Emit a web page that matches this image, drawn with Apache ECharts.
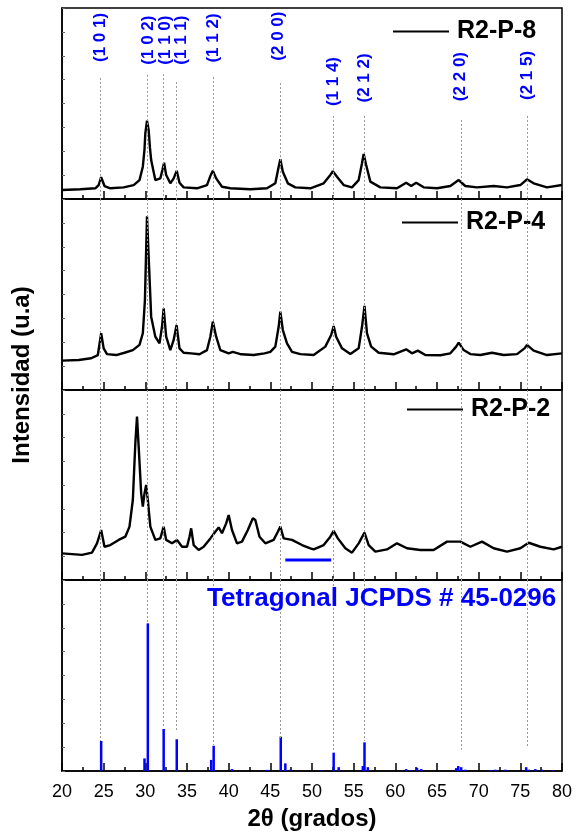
<!DOCTYPE html>
<html><head><meta charset="utf-8">
<script src="https://cdn.jsdelivr.net/npm/echarts@6/dist/echarts.min.js"></script>
<style>html,body{margin:0;padding:0;background:#fff}#c{width:577px;height:835px}</style>
</head><body><div id="c"></div>
<script>
// ---- data ----
const xTicks = [20,25,30,35,40,45,50,55,60,65,70,75,80];

const theta8 = [20.0,22.2,24.0,24.4,24.7,25.1,25.8,27.4,28.6,29.3,29.7,29.9,30.0,30.2,30.4,30.55,30.7,31.2,31.8,32.05,32.25,32.5,33.0,33.4,33.77,34.1,34.6,36.2,37.4,37.8,38.1,38.5,39.2,40.2,42.6,44.6,45.6,46.0,46.2,46.5,47.1,48.0,49.8,51.4,52.2,52.5,53.0,53.8,54.8,55.6,56.0,56.2,56.5,57.0,58.2,60.2,61.3,61.9,62.5,63.4,65.0,66.6,67.6,68.4,69.8,71.8,73.4,75.0,75.8,76.6,78.2,80.0];
const int8   = [4.7,5.1,5.6,7.3,11.4,6.8,5.6,6.1,7.3,9.9,16.9,26,34.4,41,36.1,27,20.4,9.9,10.8,15.2,19,12.6,8.2,10.8,14.8,8.5,6.1,5.6,7.3,12,14.8,10.8,6.4,5.6,5.1,5.6,8.2,16.9,20.8,14.3,8.2,6.1,5.6,8.2,12.6,14.5,11.7,7.3,6.1,9.9,18.7,23.6,17.8,9.1,6.1,5.6,8.5,6.8,8.5,6.1,5.6,6.8,9.9,6.8,6.1,6.8,6.1,7.3,10.3,8.2,6.1,7.3];

const theta4 = [20.0,22.0,23.5,24.3,24.7,25.0,25.4,26.5,27.5,28.5,29.3,29.7,29.95,30.2,30.45,30.7,31.2,31.7,32.0,32.2,32.5,33.0,33.4,33.75,34.1,34.6,35.5,36.5,37.4,37.8,38.1,38.5,39.0,40.0,40.5,41.5,43.0,44.3,45.0,45.6,46.0,46.2,46.5,47.0,47.6,48.6,50.2,51.6,52.3,52.6,52.9,53.6,54.6,55.6,56.0,56.3,56.6,57.1,58.0,59.8,61.3,62.0,62.7,63.6,65.4,66.6,67.3,67.6,68.2,69.0,70.2,71.6,73.0,74.6,75.5,75.8,76.6,78.2,80.0];
const int4   = [15.4,15.7,16.6,18.3,29.7,21.8,18.8,18.3,19.5,20.9,23.6,29.7,47,91,64.6,38.4,27.9,24.4,33.1,42.8,27.9,20.9,26.2,34,21.8,19.5,19.2,18.7,20.9,27.9,35.8,27.9,20.9,19.2,20,18.7,18.3,19.2,20,22.7,33.1,41,31.4,24.4,20,18.8,18.3,22.7,28.8,33.5,27.9,21.8,18.8,21.8,33.1,44,29.7,22.7,19.5,18.7,21.3,19.2,20.6,18.3,18.2,19.2,22.7,24.8,20.9,18.8,18.3,19.5,18.3,18.8,21.8,23.6,20.6,18.3,19.2];

const theta2 = [20.0,22.4,23.6,24.2,24.7,25.1,25.8,26.8,27.6,28.1,28.5,28.8,29.0,29.2,29.5,29.7,29.9,30.1,30.3,30.6,31.2,31.8,32.2,32.5,33.2,33.8,34.4,35.0,35.3,35.5,35.8,36.4,37.0,37.8,38.4,38.8,39.2,39.7,40.0,40.4,41.0,41.6,42.3,42.9,43.2,43.7,44.4,45.4,45.9,46.2,46.6,47.6,48.8,49.8,50.2,51.4,52.2,52.6,53.1,54.0,54.8,55.6,56.3,56.8,57.6,59.0,60.2,61.4,63.0,64.6,66.2,67.8,69.0,70.4,71.8,73.4,75.0,76.0,77.4,79.0,80.0];
const int2   = [14,13.2,14.4,19.3,26.3,17.5,18.4,21.1,22.8,28.1,42.1,72,86,70.2,45.6,38.6,45.6,50,42.1,28.1,21.1,21.9,28.1,21.1,19.3,21.1,17.5,17.5,22.8,27.2,18.4,15.8,17.5,21.9,25.4,27.7,24.6,29.8,34.2,26.3,19.3,20.2,26.3,32.5,31.6,22.8,19.3,21.1,25.4,28.1,21.9,21.1,18.4,16.7,16.1,18.4,22.8,25.9,21.9,16.7,14.4,19.3,24.9,18.4,14.9,16.1,19.3,16.7,15.8,15.8,20.2,20.2,17.5,20.2,16.7,14.9,16.7,19.6,17.5,16.1,17.5];

const refTheta = [24.6,30.2,32.2,33.75,38.1,46.2,52.6,56.25,67.9,75.8];
const jcpdsTheta = [24.7,29.9,30.3,32.2,33.77,37.9,38.2,40.4,44.65,46.25,46.8,47.4,51.1,52.6,53.2,56.1,56.3,56.7,61.3,61.8,62.6,63.1,67.3,67.55,67.9,68.4,71.4,72.0,73.2,75.7,76.0,76.8,77.6,78.9];
const jcpdsInt   = [15.7,6.6,77.3,22,16.6,5.8,13.2,1,0.6,18,4,0.7,0.4,9.6,2,2.6,15,2,1,0.5,1.7,1,1.5,2.6,2,0.7,0.5,0.7,0.7,2,0.7,1,0.7,0.5];

const hklText  = ['(1 0 1)','(1 0 2)','(1 1 0)','(1 1 1)','(1 1 2)','(2 0 0)','(1 1 4)','(2 1 2)','(2 2 0)','(2 1 5)'];
const hklX     = [24.6,30.3,32.4,34.3,38.2,45.9,52.6,56.3,67.8,75.8];
const hklY     = [84.6,83.2,83.2,83.2,84.3,85.3,61.5,63.4,64.1,64.7];
const refTop1  = [63.4,65,65.4,61.3,63.9,60.7,43.5,43.5,41.4,43.5];
const refEnd4  = [15.7,77.3,22.7,20.6,13.6,16.8,10.1,15.7,11.3,12.7];

const barTheta = [46.8,52.3];
const barLevel = [10.5,10.5];

const names = ['R2-P-8','R2-P-4','R2-P-2'];
const jcpdsTitle = 'Tetragonal JCPDS # 45-0296';
const xName = '2\u03b8 (grados)';
const yName = 'Intensidad (u.a)';

// ---- chart ----
const FONT = "'Liberation Sans', Arial, sans-serif";
const zip = (a,b) => a.map((v,i)=>[v,b[i]]);
const gridTops = [8,199,390,580];
const gridH = [191,191,190,191];
const grids = gridTops.map((t,i)=>({left:62,width:500,top:t,height:gridH[i],show:true,borderColor:'#000',borderWidth:1.5,backgroundColor:'transparent',outerBoundsMode:'none'}));
const xAxes = gridTops.map((t,i)=>({
  type:'value',gridIndex:i,min:20,max:80,interval:5,
  axisLine:{show:true,lineStyle:{color:'#000',width:1.5}},
  axisTick:{show:true,inside:true,length:8,lineStyle:{color:'#000',width:1.5}},
  minorTick:{show:true,splitNumber:2,length:4,lineStyle:{color:'#000',width:1.5}},
  splitLine:{show:false},
  axisLabel:{show:i===3,margin:12,color:'#000',fontSize:18,fontFamily:FONT},
  name:i===3?xName:'',nameLocation:'middle',nameGap:36,
  nameTextStyle:{color:'#000',fontSize:24,fontWeight:'bold',fontFamily:FONT}
}));
const yAxes = gridTops.map((t,i)=>({
  type:'value',gridIndex:i,min:0,max:100,interval:12.5,
  axisLine:{show:true,lineStyle:{color:'#000',width:1.5}},
  axisTick:{show:true,inside:true,length:3,lineStyle:{color:'#666',width:1}},
  splitLine:{show:false},axisLabel:{show:false}
}));
const dotted = {color:'#999',width:1,type:[2,2]};
const mlBase = {silent:true,symbol:['none','none'],label:{show:false},lineStyle:dotted,animation:false};

const series = [
  {name:names[0],type:'line',xAxisIndex:0,yAxisIndex:0,data:zip(theta8,int8),symbol:'none',
   lineStyle:{color:'#000',width:2.4},itemStyle:{color:'#000'},
   markLine:Object.assign({},mlBase,{data:refTheta.map((x,i)=>[{coord:[x,refTop1[i]]},{coord:[x,0]}])})},
  {name:names[1],type:'line',xAxisIndex:1,yAxisIndex:1,data:zip(theta4,int4),symbol:'none',
   lineStyle:{color:'#000',width:2.4},itemStyle:{color:'#000'},
   markLine:Object.assign({},mlBase,{data:refTheta.map(x=>[{coord:[x,100]},{coord:[x,0]}])})},
  {name:names[2],type:'line',xAxisIndex:2,yAxisIndex:2,data:zip(theta2,int2),symbol:'none',
   lineStyle:{color:'#000',width:2.4},itemStyle:{color:'#000'},
   markLine:Object.assign({},mlBase,{data:refTheta.map(x=>[{coord:[x,100]},{coord:[x,0]}])})},
  {name:'bar',type:'line',xAxisIndex:2,yAxisIndex:2,data:zip(barTheta,barLevel),symbol:'none',
   lineStyle:{color:'#0000ff',width:3},silent:true},
  {name:'JCPDS',type:'bar',xAxisIndex:3,yAxisIndex:3,data:zip(jcpdsTheta,jcpdsInt),barWidth:2.5,
   itemStyle:{color:'#0000ff'},silent:true,
   markLine:Object.assign({},mlBase,{data:refTheta.map((x,i)=>[{coord:[x,100]},{coord:[x,refEnd4[i]]}])})},
  {name:'hkl',type:'scatter',xAxisIndex:0,yAxisIndex:0,symbolSize:1,itemStyle:{color:'rgba(0,0,0,0)'},silent:true,
   data:hklText.map((t,i)=>({name:t,value:[hklX[i],hklY[i]]})),
   label:{show:true,position:'inside',rotate:90,formatter:p=>p.name,color:'#0000ff',opacity:1,fontSize:17,fontWeight:'bold',fontFamily:FONT}}
];

const legendPos = [[393,19],[402,210],[407,397]];
const legends = names.map((n,i)=>({
  data:[n],left:legendPos[i][0],top:legendPos[i][1],padding:0,icon:'rect',itemWidth:56,itemHeight:2,
  selectedMode:false,
  textStyle:{color:'#000',fontSize:25,fontWeight:'bold',fontFamily:FONT,padding:[0,0,0,3]}
}));

const chart = echarts.init(document.getElementById('c'),null,{renderer:'canvas'});
chart.setOption({
  animation:false,backgroundColor:'#fff',
  textStyle:{fontFamily:FONT},
  title:{text:jcpdsTitle,left:207,top:586,padding:0,textStyle:{color:'#0000ff',fontSize:26,fontWeight:'bold',fontFamily:FONT}},
  legend:legends,
  grid:grids,xAxis:xAxes,yAxis:yAxes,series:series,
  graphic:[{type:'text',x:22,y:375,rotation:Math.PI/2,silent:true,
    style:{text:yName,fill:'#000',font:"bold 24px 'Liberation Sans', Arial, sans-serif",align:'center',verticalAlign:'middle'}}]
});
</script></body></html>
